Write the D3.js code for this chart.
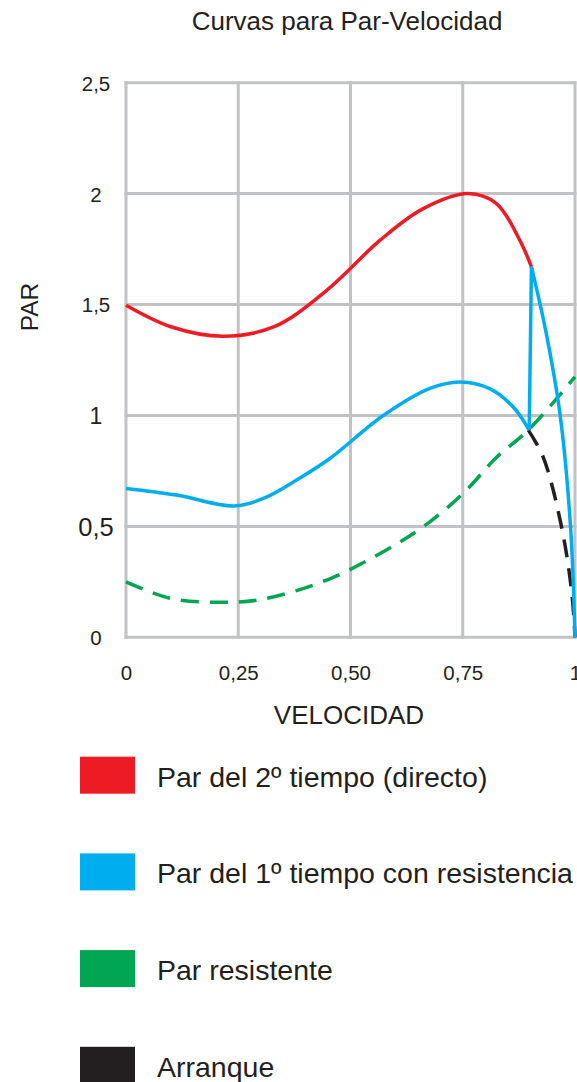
<!DOCTYPE html>
<html>
<head>
<meta charset="utf-8">
<script src="https://cdn.jsdelivr.net/npm/d3@7"></script>
<style>
    body { margin: 0; background: #fff; }
    svg { display: block; }
    text { font-family: "Liberation Sans", Arial, Helvetica, sans-serif; fill: #231f20; }
</style>
</head>
<body>
<svg id="chart" width="577" height="1082"></svg>
<script>
// Par-velocidad

const xTicks = [0, 0.25, 0.5, 0.75, 1];
const xTickLabels = ['0', '0,25', '0,50', '0,75', '1'];
const yTicks = [0, 0.5, 1, 1.5, 2, 2.5];
const yTickLabels = ['0', '0,5', '1', '1,5', '2', '2,5'];

// Par del 2º tiempo (directo)
const redCurve = [
    [0, 1.497], [0.1, 1.4], [0.217, 1.357], [0.33, 1.4], [0.447, 1.564],
    [0.566, 1.79], [0.66, 1.93], [0.762, 2.0], [0.825, 1.955], [0.877, 1.79],
    [0.903, 1.67],
];

// Par del 1º tiempo con resistencia
const blueCurve = [
    [0, 0.671], [0.113, 0.641], [0.24, 0.592], [0.306, 0.626], [0.38, 0.709],
    [0.454, 0.806], [0.573, 1.0], [0.677, 1.122], [0.744, 1.151], [0.811, 1.12],
    [0.862, 1.039], [0.898, 0.934],
];
const blueJump = [[0.898, 0.934], [0.903, 1.67]];
const blueFall = [
    [0.903, 1.67], [0.935, 1.38], [0.967, 1.0], [0.99, 0.5], [1, 0],
];

// Par resistente
const greenCurve = [
    [0, 0.25], [0.1, 0.175], [0.209, 0.158], [0.3, 0.17], [0.447, 0.258],
    [0.573, 0.386], [0.662, 0.498], [0.751, 0.649], [0.826, 0.813],
    [0.896, 0.934], [1, 1.174],
];

// Arranque
const blackCurve = [
    [0.896, 0.934], [0.929, 0.813], [0.97, 0.498], [0.993, 0.198], [1, 0],
];

const legendItems = [
    { label: 'Par del 2º tiempo (directo)', color: '#ed1c24' },
    { label: 'Par del 1º tiempo con resistencia', color: '#00aeef' },
    { label: 'Par resistente', color: '#00a651' },
    { label: 'Arranque', color: '#231f20' },
];

const svg = d3.select('#chart');

const x = d3.scaleLinear().domain([0, 1]).range([126, 575]);
const y = d3.scaleLinear().domain([0, 2.5]).range([637.3, 82.7]);

const gridColor = '#c1c2c5';

// grid
const grid = svg.append('g').attr('class', 'grid');
grid.selectAll('line.v').data(xTicks)
    .enter().append('line')
        .attr('class', 'v')
        .attr('x1', d => x(d)).attr('x2', d => x(d))
        .attr('y1', y(2.5) - 1.5).attr('y2', y(0) + 1.5)
        .style('stroke', gridColor)
        .style('stroke-width', 3);
grid.selectAll('line.h').data(yTicks)
    .enter().append('line')
        .attr('class', 'h')
        .attr('x1', x(0) - 1.5).attr('x2', x(1) + 1.5)
        .attr('y1', d => y(d)).attr('y2', d => y(d))
        .style('stroke', gridColor)
        .style('stroke-width', 3);

// tick labels
const yAxis = svg.append('g')
    .attr('transform', `translate(${x(0)},0)`)
    .call(d3.axisLeft(y).tickValues(yTicks).tickSize(0)
        .tickFormat((d, i) => yTickLabels[i]));
yAxis.select('.domain').remove();
yAxis.selectAll('text')
    .attr('x', -30)
    .attr('dy', '0.36em')
    .style('text-anchor', 'middle')
    .style('font-family', null)
    .style('font-size', d => (d === 1 ? 23 : d === 0.5 ? 25.5 : 20.5) + 'px');

const xAxis = svg.append('g')
    .attr('transform', `translate(0,${y(0)})`)
    .call(d3.axisBottom(x).tickValues(xTicks).tickSize(0)
        .tickFormat((d, i) => xTickLabels[i]));
xAxis.select('.domain').remove();
xAxis.selectAll('text')
    .attr('y', 43)
    .attr('dy', 0)
    .style('font-family', null)
    .style('font-size', '20.5px');
svg.selectAll('.tick text').style('fill', '#231f20');

// titles
svg.append('text')
    .attr('x', 347).attr('y', 30)
    .style('text-anchor', 'middle')
    .style('font-size', '26px')
    .text('Curvas para Par-Velocidad');

svg.append('text')
    .attr('x', 349).attr('y', 724)
    .style('text-anchor', 'middle')
    .style('font-size', '26px')
    .text('VELOCIDAD');

svg.append('text')
    .attr('transform', 'translate(38,307) rotate(-90)')
    .style('text-anchor', 'middle')
    .style('font-size', '24.5px')
    .text('PAR');

// curves
const smooth = d3.line()
    .x(d => x(d[0]))
    .y(d => y(d[1]))
    .curve(d3.curveCatmullRom.alpha(0.5));
const straight = d3.line()
    .x(d => x(d[0]))
    .y(d => y(d[1]));

const curves = svg.append('g').attr('class', 'curves')
    .style('fill', 'none')
    .style('stroke-width', 3.5)
    .style('stroke-linejoin', 'round');

curves.append('path')
    .attr('d', smooth(greenCurve))
    .style('stroke', legendItems[2].color)
    .style('stroke-dasharray', '18, 11');

curves.append('path')
    .attr('d', smooth(blackCurve))
    .style('stroke', legendItems[3].color)
    .style('stroke-dasharray', '18, 11');

curves.append('path')
    .attr('d', smooth(redCurve))
    .style('stroke', legendItems[0].color);

curves.append('path')
    .attr('d', smooth(blueCurve))
    .style('stroke', legendItems[1].color);
curves.append('path')
    .attr('d', straight(blueJump))
    .style('stroke', legendItems[1].color);
curves.append('path')
    .attr('d', smooth(blueFall))
    .style('stroke', legendItems[1].color);

// legend
const legend = svg.append('g').attr('class', 'legend')
    .selectAll('g').data(legendItems)
    .enter().append('g')
        .attr('transform', (d, i) => `translate(80,${756.7 + i * 96.7})`);

legend.append('rect')
    .attr('width', 55)
    .attr('height', 37)
    .style('fill', d => d.color);

legend.append('text')
    .attr('x', 77)
    .attr('y', 30)
    .style('font-size', '28.5px')
    .text(d => d.label);
</script>
</body>
</html>
